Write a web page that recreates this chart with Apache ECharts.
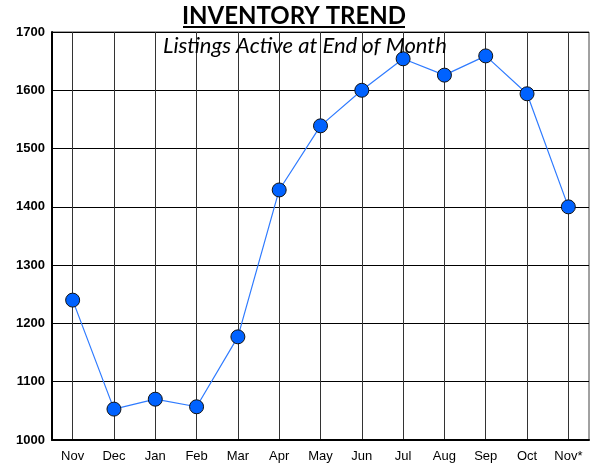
<!DOCTYPE html>
<html>
<head>
<meta charset="utf-8">
<script src="https://cdn.jsdelivr.net/npm/echarts@6/dist/echarts.min.js"></script>
<style>
  html, body { margin: 0; padding: 0; background: #fff; }
  #chart { width: 597px; height: 467px; }
</style>
</head>
<body>
<div id="chart"></div>
<script>
// months shown on the x axis
var months = ['Nov', 'Dec', 'Jan', 'Feb', 'Mar', 'Apr', 'May', 'Jun', 'Jul', 'Aug', 'Sep', 'Oct', 'Nov*'];
// active listings at month end
var listings = [1240, 1053, 1070, 1057, 1177, 1429, 1539, 1600, 1654, 1626, 1659, 1594, 1400];

var chart = echarts.init(document.getElementById('chart'));

var option = {
    animation: false,
    graphic: [
        {
            type: 'text',
            x: 294,
            y: 4,
            style: {
                text: 'INVENTORY TREND',
                align: 'center',
                verticalAlign: 'top',
                fontFamily: 'Lato',
                fontWeight: 'bold',
                fontSize: 24,
                fill: '#000'
            }
        },
        {
            type: 'line',
            shape: { x1: 183, y1: 27, x2: 405, y2: 27 },
            style: { stroke: '#000', lineWidth: 2 }
        },
        {
            type: 'text',
            x: 163,
            y: 35,
            z: 100,
            style: {
                text: 'Listings Active at End of Month',
                fontFamily: 'Lato',
                fontStyle: 'italic',
                fontSize: 22,
                fill: '#000'
            }
        }
    ],
    grid: {
        left: 52,
        right: 8,
        top: 32,
        bottom: 27,
        show: true,
        borderColor: '#444',
        borderWidth: 1
    },
    xAxis: {
        type: 'category',
        data: months,
        boundaryGap: true,
        axisLine: { lineStyle: { color: '#000', width: 2 } },
        axisTick: { show: false },
        axisLabel: {
            fontFamily: 'Liberation Sans',
            fontSize: 13,
            color: '#000',
            margin: 10,
            interval: 0
        },
        splitLine: {
            show: true,
            alignWithLabel: true,
            lineStyle: { color: '#333', width: 1 }
        }
    },
    yAxis: {
        type: 'value',
        min: 1000,
        max: 1700,
        interval: 100,
        axisLine: { show: true, lineStyle: { color: '#000', width: 2 } },
        axisTick: { show: false },
        axisLabel: {
            fontFamily: 'Liberation Sans',
            fontWeight: 'bold',
            fontSize: 13,
            color: '#000',
            margin: 7,
            formatter: function (v) { return String(v); }
        },
        splitLine: { lineStyle: { color: '#000', width: 1 } }
    },
    series: [
        {
            type: 'line',
            data: listings,
            symbol: 'circle',
            symbolSize: 14,
            lineStyle: { color: '#2f7bff', width: 1.2 },
            itemStyle: { color: '#0062ff', borderColor: '#111', borderWidth: 1 }
        }
    ]
};

chart.setOption(option);
</script>
</body>
</html>
